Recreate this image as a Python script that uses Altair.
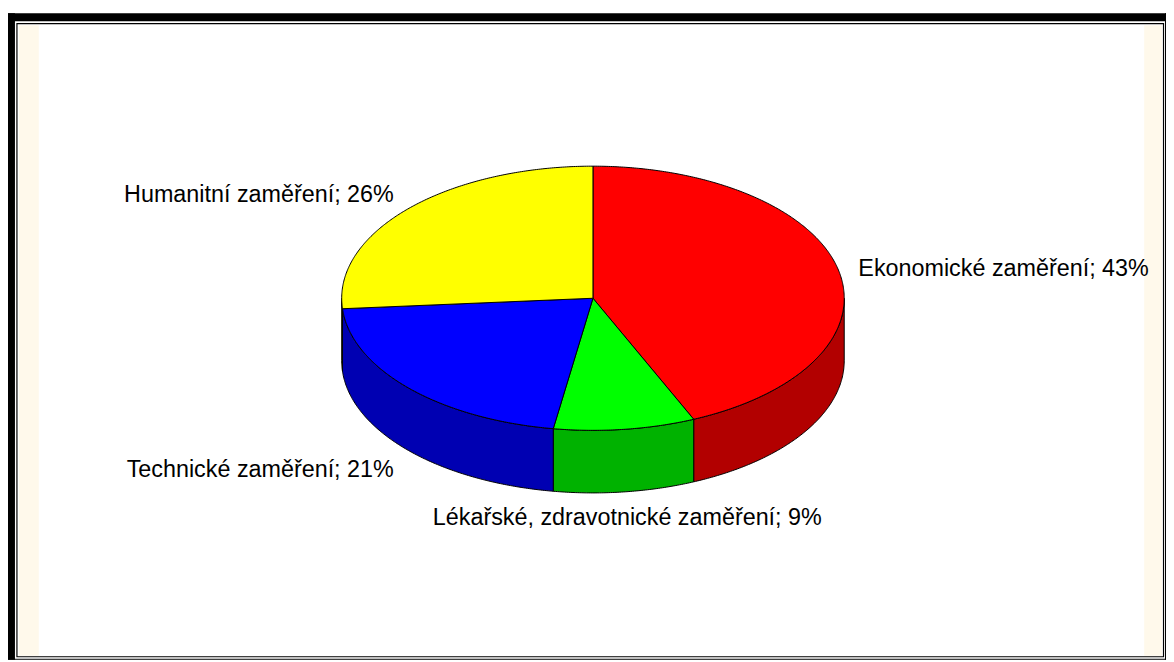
import numpy as np
import pandas as pd
import altair as alt

# ---- data ----
categories = ["Ekonomické zaměření", "Lékařské, zdravotnické zaměření",
              "Technické zaměření", "Humanitní zaměření"]
shares = [43, 9, 21, 26]
top_colors = ["#FF0000", "#00FF00", "#0000FF", "#FFFF00"]
side_colors = ["#B20000", "#00B200", "#0000B2", "#B2B200"]

# ---- layout constants (pixels inside the chart) ----
W, H = 1166, 654
CX, CY, RX, RY, DEPTH = 589, 290, 253, 133, 63
LABEL_OFF_X, LABEL_OFF_Y, LABEL_DY = 20, 24, 3
FONT = "Liberation Sans"

total = sum(shares)
bounds = np.concatenate([[0], np.cumsum(shares)]) / total * 360.0


def pt(deg, drop=0.0):
    r = np.radians(deg)
    return CX + RX * np.sin(r), CY - RY * np.cos(r) + drop


top_rows, wall_rows, label_rows = [], [], []
for k, (cat, share, a, b) in enumerate(zip(categories, shares, bounds[:-1], bounds[1:])):
    angs = np.linspace(a, b, max(2, int((b - a) * 2) + 1))
    pts = [(CX, CY)] + [pt(t) for t in angs] + [(CX, CY)]
    for i, (x, y) in enumerate(pts):
        top_rows.append(dict(poly=f"t{k}", i=i, x=x, y=y, fill=top_colors[k]))
    lo, hi = max(a, 90.0), min(b, 270.0)
    if hi > lo:
        angs = np.linspace(lo, hi, max(2, int((hi - lo) * 2) + 1))
        pts = [pt(t) for t in angs] + [pt(t, DEPTH) for t in angs[::-1]]
        pts.append(pts[0])
        for i, (x, y) in enumerate(pts):
            wall_rows.append(dict(poly=f"w{k}", i=i, x=x, y=y, fill=side_colors[k]))
    mid = np.radians((a + b) / 2)
    s, c = np.sin(mid), np.cos(mid)
    lx = CX + (RX + LABEL_OFF_X) * s
    ly = CY - (RY + LABEL_OFF_Y) * c + (DEPTH if c < 0 else 0) + LABEL_DY
    align = "left" if s > 0.3 else ("right" if s < -0.3 else "center")
    label_rows.append(dict(label=f"{cat}; {share}%", x=lx, y=ly, align=align))

top_df = pd.DataFrame(top_rows)
wall_df = pd.DataFrame(wall_rows)
label_df = pd.DataFrame(label_rows)

xs = alt.Scale(domain=[0, W], nice=False, zero=False)
ys = alt.Scale(domain=[0, H], reverse=True, nice=False, zero=False)


def poly_layer(df):
    return alt.Chart(df).mark_line(
        filled=True, stroke="black", strokeWidth=1, strokeJoin="round"
    ).encode(
        x=alt.X("x:Q", scale=xs, axis=None),
        y=alt.Y("y:Q", scale=ys, axis=None),
        order=alt.Order("i:Q"),
        detail="poly:N",
        color=alt.Color("fill:N", scale=None, legend=None),
    )


one = pd.DataFrame({"a": [0]})


def box(x1, x2, y1, y2, fill):
    return alt.Chart(one).mark_rect(fill=fill, strokeWidth=0).encode(
        x=alt.value(x1), x2=alt.value(x2), y=alt.value(y1), y2=alt.value(y2)
    )


cream = "#FFF9EB"
frame = [
    box(11, 31, 15, 650, cream),
    box(1144, 1162, 15, 650, cream),
    box(0, 7, 3, H, "black"),          # thick left
    box(0, W, 3, 11, "black"),         # thick top
    box(0, W, H - 1, H, "black"),      # thick bottom (cut)
    box(W - 1, W, 3, H, "black"),      # thick right (cut)
    alt.Chart(one).mark_rect(fill=None, stroke="black", strokeWidth=1.2).encode(
        x=alt.value(9), x2=alt.value(1163.5), y=alt.value(13.5), y2=alt.value(651)
    ),
]

labels = []
for al in ["left", "right", "center"]:
    labels.append(
        alt.Chart(label_df).transform_filter(alt.datum.align == al).mark_text(
            align=al, baseline="middle", font=FONT, fontSize=23.5, color="black"
        ).encode(
            x=alt.X("x:Q", scale=xs, axis=None),
            y=alt.Y("y:Q", scale=ys, axis=None),
            text="label:N",
        )
    )

chart = alt.layer(*frame, poly_layer(wall_df), poly_layer(top_df), *labels).properties(
    width=W, height=H, padding=0,
    autosize=alt.AutoSizeParams(type="fit", contains="padding"),
    background="white",
).configure_view(stroke=None)

chart.save("out.html", embed_options={"renderer": "svg", "actions": False})
